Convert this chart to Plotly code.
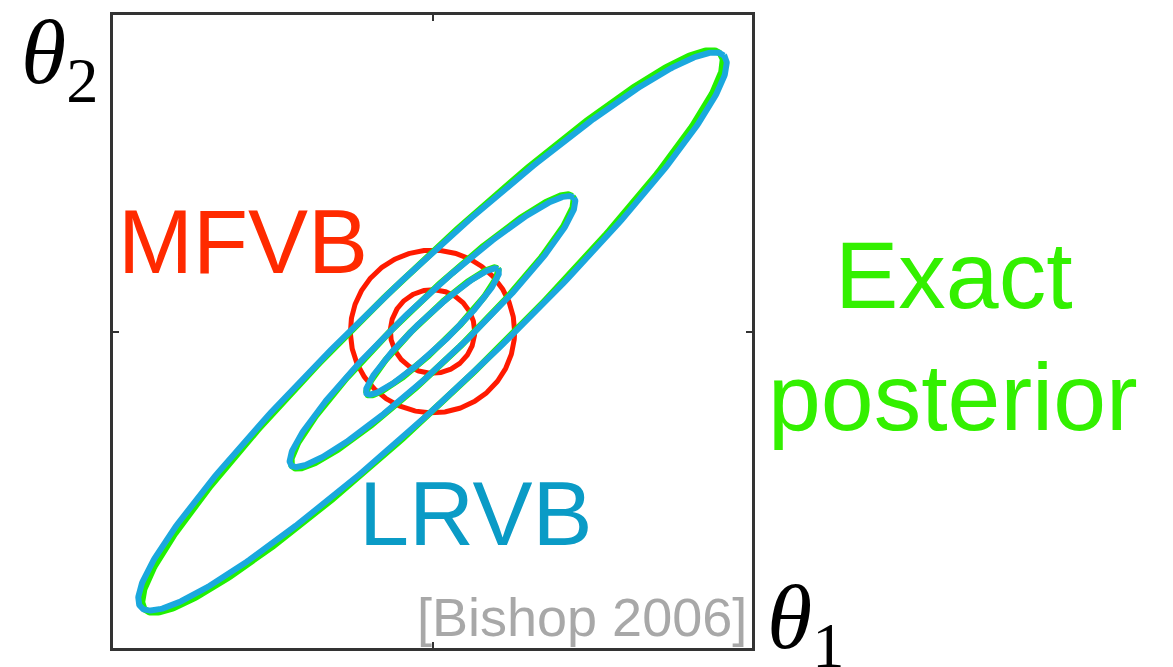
import numpy as np
import plotly.graph_objects as go

# ---- data (axis units; plot spans -1..1 on both axes, centred at the posterior mean) ----
contour_names = ["inner", "middle", "outer"]
exact_semi_major = [0.285, 0.612, 1.258]
exact_semi_minor = [0.047, 0.094, 0.182]
exact_angle_deg = 44.3
lrvb_semi_major = [0.285, 0.612, 1.262]
lrvb_semi_minor = [0.047, 0.094, 0.182]
lrvb_angle_deg = 43.7
mfvb_radius = [0.132, 0.257]
center = [0.0, 0.0]
tick_positions = [0.0]

# the page body has an 8px margin; the figure is sized so that nothing overflows the window
OFF = 8
W, H = 1173 - OFF, 667 - OFF
# plot-area box in screen pixels
L, R, T, B = 113, 752, 12, 648


def px(x):
    return (x - L) / (R - L)


def py(y):
    return (B - y) / (B - T)


def ellipse(a, b, ang_deg, n=500):
    t = np.linspace(0, 2 * np.pi, n)
    phi = np.deg2rad(ang_deg)
    x = center[0] + a * np.cos(t) * np.cos(phi) - b * np.sin(t) * np.sin(phi)
    y = center[1] + a * np.cos(t) * np.sin(phi) + b * np.sin(t) * np.cos(phi)
    return x, y


RED = "#FF1A00"
GREEN = "#22F000"
BLUE = "#1AA8DE"

fig = go.Figure()

for r in mfvb_radius:
    x, y = ellipse(r, r, 0)
    fig.add_trace(go.Scatter(x=x, y=y, mode="lines", line=dict(color=RED, width=5),
                             hoverinfo="skip", showlegend=False))

for a, b in zip(exact_semi_major, exact_semi_minor):
    x, y = ellipse(a, b, exact_angle_deg)
    fig.add_trace(go.Scatter(x=x, y=y, mode="lines", line=dict(color=GREEN, width=6.5),
                             hoverinfo="skip", showlegend=False))

for a, b in zip(lrvb_semi_major, lrvb_semi_minor):
    x, y = ellipse(a, b, lrvb_angle_deg)
    fig.add_trace(go.Scatter(x=x, y=y, mode="lines", line=dict(color=BLUE, width=6),
                             hoverinfo="skip", showlegend=False))

axis_common = dict(
    range=[-1, 1], showgrid=False, zeroline=False, showline=True, linecolor="#333333",
    linewidth=3, mirror="ticks", ticks="inside", ticklen=6, tickwidth=2, tickcolor="#333333",
    tickvals=tick_positions, showticklabels=False, fixedrange=True,
)

fig.update_layout(
    width=W, height=H,
    margin=dict(l=L - OFF, r=W - (R - OFF), t=T - OFF, b=H - (B - OFF), pad=0),
    paper_bgcolor="white", plot_bgcolor="white",
    xaxis=axis_common, yaxis=axis_common,
)

sans = "Liberation Sans"
serif = "Liberation Serif"
annots = [
    dict(text="MFVB", x=px(117), y=py(240), xanchor="left", yanchor="middle",
         font=dict(family=sans, size=90, color="#FF2A00")),
    dict(text="LRVB", x=px(358), y=py(513), xanchor="left", yanchor="middle",
         font=dict(family=sans, size=90, color="#0A9BC6")),
    dict(text="Exact", x=px(954), y=py(273), xanchor="center", yanchor="middle",
         font=dict(family=sans, size=95, color="#33F000")),
    dict(text="posterior", x=px(953), y=py(396), xanchor="center", yanchor="middle",
         font=dict(family=sans, size=95, color="#33F000")),
    dict(text="[Bishop 2006]", x=px(748), y=py(617), xanchor="right", yanchor="middle",
         font=dict(family=sans, size=54, color="#A8A8A8")),
    dict(text="<i>θ</i><sub>2</sub>", x=px(20), y=py(56), xanchor="left", yanchor="middle",
         font=dict(family=serif, size=92, color="black")),
    dict(text="<i>θ</i><sub>1</sub>", x=px(766), y=py(623), xanchor="left", yanchor="middle",
         font=dict(family=serif, size=92, color="black")),
]
for a in annots:
    a.update(xref="paper", yref="paper", showarrow=False, borderpad=0)
    fig.add_annotation(**a)

fig.write_html("out.html")
